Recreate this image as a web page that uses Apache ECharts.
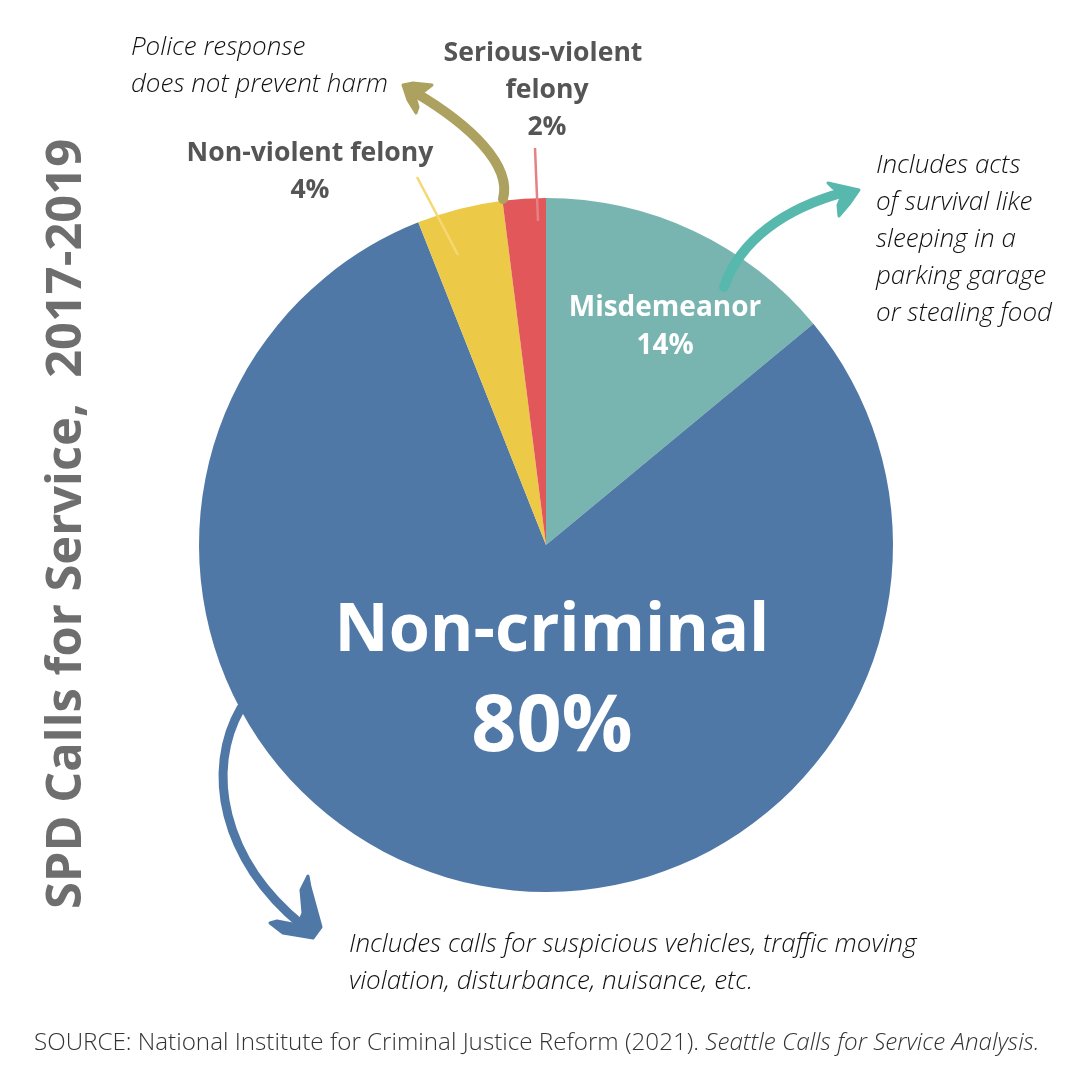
<!DOCTYPE html>
<html>
<head>
<meta charset="utf-8">
<style>html,body{margin:0;padding:0;background:#fff}#main{width:1080px;height:1080px}</style>
<script src="https://cdn.jsdelivr.net/npm/echarts@6/dist/echarts.min.js"></script>
</head>
<body>
<div id="main"></div>
<script>
var categories = ['Misdemeanor', 'Non-criminal', 'Non-violent felony', 'Serious-violent felony'];
var values = [14, 80, 4, 2];
var colors = ['#79b5b0', '#4f78a7', '#ecc947', '#e25759'];
var chartTitle = 'SPD Calls for Service,  2017-2019';
var FONT = '"Open Sans"';

function txt(text, x, y, font, fill, extra) {
    var style = {text: text, x: x, y: y, font: font, fill: fill, textAlign: 'center', textVerticalAlign: 'middle'};
    for (var k in extra || {}) style[k] = extra[k];
    return {type: 'text', z: 20, style: style};
}
// multi-line note, one text per line
function note(lines, x, y, step) {
    return lines.map(function (l, i) {
        return txt(l, x, y + i * step, 'italic 300 26px ' + FONT, '#111', {textAlign: 'left'});
    });
}
function curve(pts, color, w) {
    return {type: 'bezierCurve', z: 10, shape: {x1: pts[0], y1: pts[1], cpx1: pts[2], cpy1: pts[3], cpx2: pts[4], cpy2: pts[5], x2: pts[6], y2: pts[7]},
        style: {stroke: color, lineWidth: w, fill: null, lineCap: 'round'}};
}
function head(points, color) {
    return {type: 'polygon', z: 10, shape: {points: points, smooth: 0}, style: {fill: color, stroke: color, lineWidth: 3, lineJoin: 'round'}};
}
function leader(x1, y1, x2, y2, color) {
    return {type: 'line', z: 10, shape: {x1: x1, y1: y1, x2: x2, y2: y2}, style: {stroke: color, lineWidth: 2.5}};
}

var DARK = '#555555';
var elements = [
    // arrows
    curve([503, 199, 512, 165, 470, 125, 416, 93], '#ada15f', 10),
    head([[403, 85], [413, 83], [432, 85], [423, 92], [415, 97], [418, 107], [416, 113], [408, 100]], '#ada15f'),
    curve([724, 287, 740, 240, 785, 208, 845, 192], '#57b8ae', 10),
    head([[859, 190], [828, 183], [833, 188], [843, 193], [838, 205], [839, 216], [850, 203]], '#57b8ae'),
    curve([241, 708, 205, 770, 222, 860, 302, 925], '#4f78a7', 9),
    head([[270, 923], [277, 921], [298, 925], [303, 913], [301, 890], [308, 876], [310, 887], [321, 927], [313, 938], [283, 933]], '#4f78a7'),
    leader(417, 177, 458, 255, '#f6d873'),
    leader(535, 148, 538, 221, '#e58084'),
    // slice labels
    txt(categories[1], 552, 632, '700 66.5px ' + FONT, '#fff'),
    txt(values[1] + '%', 552, 728, '700 79px ' + FONT, '#fff'),
    txt(categories[0], 665, 308, '700 28px ' + FONT, '#fff'),
    txt(values[0] + '%', 665, 346, '700 28px ' + FONT, '#fff'),
    txt(categories[2], 310, 153, '700 26.6px ' + FONT, DARK),
    txt(values[2] + '%', 310, 190, '700 26.6px ' + FONT, DARK),
    txt('Serious-violent', 543, 53, '700 26.6px ' + FONT, DARK),
    txt('felony', 547, 90, '700 26.6px ' + FONT, DARK),
    txt(values[3] + '%', 547, 127, '700 26.6px ' + FONT, DARK),
    // title, rotated
    {type: 'text', z: 20, x: 67, y: 524, rotation: Math.PI / 2,
        style: {text: chartTitle, x: 0, y: 0, font: '700 48.8px ' + FONT, fill: '#6e6e6e', textAlign: 'center', textVerticalAlign: 'middle'}},
    // source
    {type: 'text', z: 20, style: {x: 34, y: 1043, textVerticalAlign: 'middle',
        text: '{a|SOURCE: National Institute for Criminal Justice Reform (2021). }{b|Seattle Calls for Service Analysis.}',
        rich: {
            a: {font: '300 24.2px ' + FONT, fill: '#333'},
            b: {font: 'italic 300 24.2px ' + FONT, fill: '#333'}
        }}}
].concat(
    note(['Police response', 'does not prevent harm'], 131, 48, 37),
    note(['Includes acts', 'of survival like', 'sleeping in a', 'parking garage', 'or stealing food'], 876, 165.5, 37),
    note(['Includes calls for suspicious vehicles, traffic moving', 'violation, disturbance, nuisance, etc.'], 349, 945, 37)
);

var chart = echarts.init(document.getElementById('main'));
chart.setOption({
    backgroundColor: '#fff',
    animation: false,
    color: colors,
    graphic: {elements: elements},
    series: [{
        type: 'pie',
        center: [546, 545],
        radius: [0, 347],
        startAngle: 90,
        clockwise: true,
        silent: true,
        label: {show: false},
        labelLine: {show: false},
        data: categories.map(function (c, i) { return {name: c, value: values[i]}; })
    }]
});
</script>
</body>
</html>
